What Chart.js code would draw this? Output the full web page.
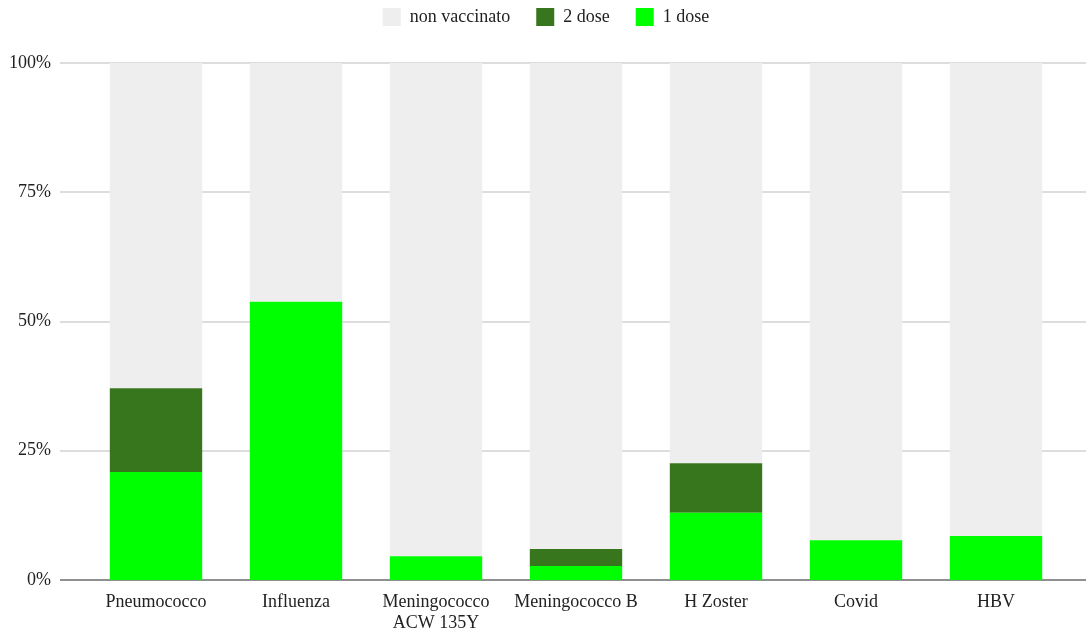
<!DOCTYPE html>
<html>
<head>
<meta charset="utf-8">
<script src="https://cdn.jsdelivr.net/npm/chart.js@4"></script>
<style>
  html, body { margin: 0; padding: 0; background: #fff; }
  #wrap { width: 1086px; height: 629px; }
</style>
</head>
<body>
<div id="wrap"><canvas id="vaxChart" width="1086" height="629"></canvas></div>
<script>
const categories = ['Pneumococco', 'Influenza', ['Meningococco', 'ACW 135Y'], 'Meningococco B', 'H Zoster', 'Covid', 'HBV'];
const oneDose = [20.9, 53.8, 4.6, 2.7, 13.0, 7.7, 8.5];
const twoDose = [16.2, 0, 0, 3.3, 9.6, 0, 0];
const notVaccinated = [62.9, 46.2, 95.4, 94.0, 77.4, 92.3, 91.5];
const yTicks = [0, 25, 50, 75, 100];

const FONT = "'Liberation Serif', 'Times New Roman', serif";
const LEGEND_PAD = 26;

// gridlines in the reference run past the plot area, so draw them ourselves
const wideGrid = {
  id: 'wideGrid',
  beforeDatasetsDraw(chart) {
    const y = chart.scales.y;
    const c = chart.ctx;
    c.save();
    yTicks.forEach(v => {
      const py = Math.round(y.getPixelForValue(v));
      c.beginPath();
      c.strokeStyle = v === 0 ? '#909090' : '#dddddd';
      c.lineWidth = 2;
      c.moveTo(60, py);
      c.lineTo(chart.width, py);
      c.stroke();
    });
    c.restore();
  }
};

// fixed legend block height, legend drawn near the top edge
const legendSpot = {
  id: 'legendSpot',
  beforeInit(chart) {
    const fit = chart.legend.fit;
    chart.legend.fit = function () { fit.call(this); this.height = 63; };
  },
  afterLayout(chart) {
    chart.legend.top = 8 - LEGEND_PAD;
    chart.legend.left += 13;
    chart.legend.right += 13;
  }
};

const ctx = document.getElementById('vaxChart').getContext('2d');
new Chart(ctx, {
  type: 'bar',
  data: {
    labels: categories,
    datasets: [
      { label: '1 dose', data: oneDose, backgroundColor: '#00ff00', borderWidth: 0 },
      { label: '2 dose', data: twoDose, backgroundColor: '#38761d', borderWidth: 0 },
      { label: 'non vaccinato', data: notVaccinated, backgroundColor: '#eeeeee', borderWidth: 0 }
    ]
  },
  plugins: [wideGrid, legendSpot],
  options: {
    responsive: false,
    animation: false,
    layout: { padding: { left: 0, right: 20, top: 0, bottom: 0 } },
    datasets: { bar: { categoryPercentage: 1, barPercentage: 0.66 } },
    plugins: {
      legend: {
        position: 'top',
        reverse: true,
        labels: {
          font: { family: FONT, size: 18 },
          color: '#222',
          boxWidth: 18,
          boxHeight: 18,
          padding: LEGEND_PAD
        }
      },
      tooltip: { enabled: false }
    },
    scales: {
      x: {
        stacked: true,
        grid: { display: false, drawTicks: false },
        border: { display: false },
        ticks: { font: { family: FONT, size: 18 }, color: '#222', padding: 11, maxRotation: 0 },
        afterFit(scale) { scale.height = 49; }
      },
      y: {
        stacked: true,
        min: 0,
        max: 100,
        afterBuildTicks(scale) { scale.ticks = yTicks.map(v => ({ value: v })); },
        grid: { display: false, drawTicks: false },
        border: { display: false },
        ticks: {
          font: { family: FONT, size: 18 },
          color: '#222',
          padding: 35,
          callback: v => v + '%'
        },
        afterFit(scale) { scale.width = 86; }
      }
    }
  }
});
</script>
</body>
</html>
